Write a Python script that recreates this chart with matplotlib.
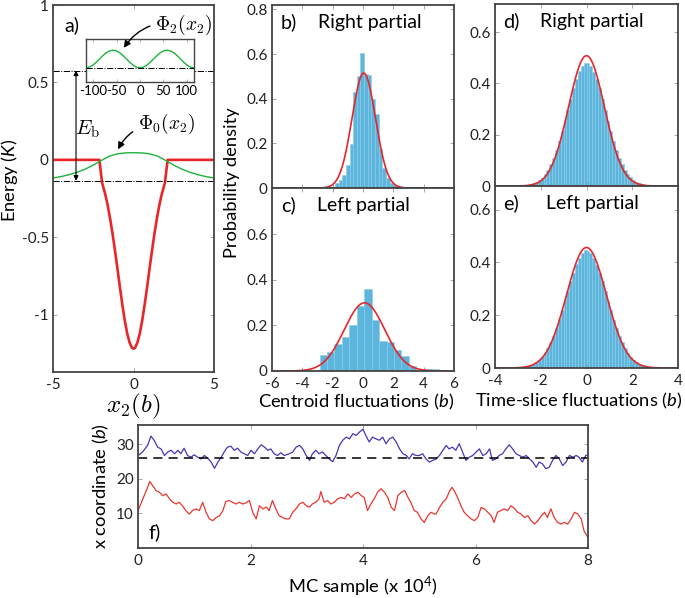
import numpy as np
import matplotlib
matplotlib.use("Agg")
import matplotlib.pyplot as plt
from matplotlib.ticker import FormatStrFormatter

plt.rcParams['font.family'] = ['Lato', 'DejaVu Sans']
plt.rcParams['mathtext.fontset'] = 'custom'
plt.rcParams['mathtext.it'] = 'Lato:italic'
plt.rcParams['mathtext.rm'] = 'Lato'
plt.rcParams['axes.unicode_minus'] = False

# ---------------- data ----------------
# a) double-well potential (K) vs x2 (b)
pot_x = [-5.0, -2.12, -1.95, -1.75, -1.6, -1.45, -1.3, -1.15, -1.0, -0.85, -0.7, -0.55, -0.4,
         -0.25, -0.1, 0.0, 0.1, 0.25, 0.4, 0.55, 0.7, 0.85, 1.0, 1.15, 1.3, 1.45, 1.6, 1.75,
         1.95, 2.12, 5.0]
pot_y = [0, 0, -0.148, -0.224, -0.295, -0.381, -0.478, -0.586, -0.701, -0.818, -0.930, -1.032,
         -1.117, -1.178, -1.213, -1.22, -1.213, -1.178, -1.117, -1.032, -0.930, -0.818, -0.701,
         -0.586, -0.478, -0.381, -0.295, -0.224, -0.148, 0, 0]
phi0_x = [-5, -4.5, -4, -3.5, -3, -2.5, -2, -1.5, -1, -0.5, 0, 0.5, 1, 1.5, 2, 2.5, 3, 3.5, 4, 4.5, 5]
phi0_y = [-0.117, -0.108, -0.096, -0.08, -0.06, -0.034, -0.004, 0.024, 0.039, 0.045, 0.046,
          0.045, 0.039, 0.024, -0.004, -0.034, -0.06, -0.08, -0.096, -0.108, -0.117]
phi2_x = [-116, -108.75, -101.5, -94.25, -87, -79.75, -72.5, -65.25, -58, -50.75, -43.5, -36.25,
          -29, -21.75, -14.5, -7.25, 0, 7.25, 14.5, 21.75, 29, 36.25, 43.5, 50.75, 58, 65.25,
          72.5, 79.75, 87, 94.25, 101.5, 108.75, 116]
phi2_y = [0.33, 0.346, 0.39, 0.457, 0.535, 0.613, 0.68, 0.724, 0.74, 0.724, 0.68, 0.613, 0.535,
          0.457, 0.39, 0.346, 0.33, 0.346, 0.39, 0.457, 0.535, 0.613, 0.68, 0.724, 0.74, 0.724,
          0.68, 0.613, 0.535, 0.457, 0.39, 0.346, 0.33]
level_top = 0.577
level_bottom = -0.135
inset_level = 0.33

# b) centroid, right partial
b_centers = [-1.73, -1.49, -1.25, -1.01, -0.77, -0.53, -0.29, -0.05, 0.19, 0.43, 0.67, 0.91,
             1.15, 1.39, 1.63, 1.87, 2.11]
b_heights = [0.022, 0.034, 0.058, 0.105, 0.197, 0.43, 0.50, 0.606, 0.51, 0.505, 0.40, 0.33,
             0.175, 0.088, 0.044, 0.022, 0.012]
b_width = 0.24
b_fit = (0.05, 0.775)   # mean, sigma

# c) centroid, left partial
c_centers = [-2.615, -2.125, -1.635, -1.145, -0.655, -0.165, 0.325, 0.815, 1.305, 1.795,
             2.285, 2.775, 3.265, 3.755, 4.245, 4.735]
c_heights = [0.071, 0.084, 0.12, 0.148, 0.204, 0.287, 0.36, 0.222, 0.133, 0.129, 0.093, 0.067,
             0.022, 0.0, 0.007, 0.007]
c_width = 0.49
c_fit = (0.1, 1.334)

# d), e) time-slice fluctuations
de_centers = [-2.9375, -2.8125, -2.6875, -2.5625, -2.4375, -2.3125, -2.1875, -2.0625, -1.9375,
              -1.8125, -1.6875, -1.5625, -1.4375, -1.3125, -1.1875, -1.0625, -0.9375, -0.8125,
              -0.6875, -0.5625, -0.4375, -0.3125, -0.1875, -0.0625, 0.0625, 0.1875, 0.3125,
              0.4375, 0.5625, 0.6875, 0.8125, 0.9375, 1.0625, 1.1875, 1.3125, 1.4375, 1.5625,
              1.6875, 1.8125, 1.9375, 2.0625, 2.1875, 2.3125, 2.4375, 2.5625, 2.6875, 2.8125,
              2.9375]
de_width = 0.125
d_heights = [0.001, 0.002, 0.003, 0.005, 0.007, 0.011, 0.016, 0.023, 0.033, 0.046, 0.063, 0.084,
             0.110, 0.140, 0.175, 0.213, 0.255, 0.297, 0.340, 0.382, 0.418, 0.448, 0.470, 0.480,
             0.478, 0.468, 0.446, 0.416, 0.381, 0.339, 0.297, 0.255, 0.214, 0.176, 0.141, 0.111,
             0.085, 0.064, 0.047, 0.034, 0.024, 0.016, 0.011, 0.007, 0.005, 0.003, 0.002, 0.001]
e_heights = [0.002, 0.003, 0.005, 0.008, 0.011, 0.016, 0.023, 0.032, 0.043, 0.058, 0.076, 0.098,
             0.123, 0.152, 0.184, 0.219, 0.256, 0.293, 0.329, 0.362, 0.393, 0.418, 0.436, 0.446,
             0.445, 0.435, 0.417, 0.392, 0.361, 0.328, 0.292, 0.255, 0.218, 0.183, 0.151, 0.122,
             0.097, 0.075, 0.057, 0.043, 0.032, 0.023, 0.016, 0.011, 0.008, 0.005, 0.003, 0.002]
d_fit = (0.0, 0.785)
e_fit = (0.0, 0.873)

# f) MC traces (samples in units of 1e4)
blue_t = [0.00, 0.08, 0.17, 0.23, 0.29, 0.35, 0.41, 0.47, 0.53, 0.59, 0.65, 0.71, 0.76, 0.82,
          0.88, 0.94, 1.00, 1.06, 1.12, 1.18, 1.24, 1.30, 1.36, 1.42, 1.48, 1.53, 1.59, 1.65,
          1.71, 1.77, 1.83, 1.89, 1.95, 2.01, 2.07, 2.13, 2.19, 2.25, 2.31, 2.36, 2.42, 2.48,
          2.54, 2.60, 2.69, 2.75, 2.81, 2.87, 2.93, 2.99, 3.05, 3.10, 3.16, 3.22, 3.28, 3.34,
          3.40, 3.46, 3.52, 3.58, 3.64, 3.70, 3.76, 3.82, 3.88, 3.94, 4.00, 4.05, 4.11, 4.17,
          4.23, 4.29, 4.35, 4.41, 4.47, 4.53, 4.59, 4.65, 4.71, 4.77, 4.82, 4.88, 4.94, 5.00,
          5.06, 5.12, 5.18, 5.24, 5.30, 5.36, 5.42, 5.48, 5.53, 5.59, 5.65, 5.71, 5.77, 5.83,
          5.89, 5.95, 6.01, 6.07, 6.13, 6.19, 6.25, 6.30, 6.36, 6.42, 6.48, 6.54, 6.60, 6.66,
          6.72, 6.78, 6.84, 6.90, 6.96, 7.02, 7.08, 7.13, 7.19, 7.25, 7.31, 7.37, 7.43, 7.49,
          7.55, 7.61, 7.67, 7.73, 7.79, 7.84, 7.90, 7.96, 8.00]
blue_x = [26.7, 27.7, 29.6, 32.3, 31.0, 29.1, 28.6, 26.7, 27.7, 28.2, 27.2, 28.2, 27.2, 28.8,
          26.7, 26.2, 26.9, 26.2, 25.7, 26.7, 25.9, 24.8, 23.0, 24.8, 26.2, 27.7, 29.1, 29.4,
          28.2, 28.8, 27.7, 27.2, 26.7, 28.2, 27.2, 28.6, 29.8, 29.1, 28.2, 28.6, 27.2, 26.7,
          27.5, 26.7, 27.2, 27.7, 29.1, 29.6, 28.6, 26.7, 25.3, 27.2, 28.2, 27.2, 27.7, 26.7,
          25.7, 24.9, 26.7, 29.6, 31.1, 32.0, 31.5, 33.0, 32.5, 33.5, 34.3, 32.5, 30.6, 32.0,
          31.5, 31.1, 32.0, 30.1, 31.5, 32.0, 30.6, 28.6, 27.2, 26.7, 25.7, 27.2, 26.7, 26.7,
          27.2, 25.7, 24.8, 25.3, 25.7, 26.7, 28.2, 29.6, 28.6, 29.1, 28.2, 30.1, 27.7, 25.3,
          26.2, 26.7, 27.7, 28.6, 26.7, 27.2, 28.6, 25.3, 25.7, 26.7, 27.2, 28.6, 29.8, 28.6,
          27.2, 26.7, 26.2, 26.7, 25.7, 24.8, 23.3, 24.8, 24.3, 22.9, 23.3, 25.3, 26.7, 25.7,
          23.8, 24.8, 26.7, 26.2, 26.7, 26.2, 24.8, 26.7, 26.9]
red_t = [0.00, 0.05, 0.11, 0.17, 0.21, 0.26, 0.32, 0.38, 0.44, 0.50, 0.56, 0.62, 0.68, 0.73,
         0.79, 0.85, 0.91, 0.97, 1.03, 1.09, 1.15, 1.21, 1.27, 1.33, 1.39, 1.45, 1.51, 1.56,
         1.62, 1.68, 1.74, 1.80, 1.86, 1.92, 1.98, 2.04, 2.10, 2.16, 2.22, 2.28, 2.33, 2.39,
         2.45, 2.51, 2.57, 2.63, 2.69, 2.75, 2.81, 2.87, 2.93, 2.99, 3.05, 3.10, 3.16, 3.22,
         3.25, 3.31, 3.37, 3.43, 3.49, 3.55, 3.61, 3.67, 3.73, 3.79, 3.85, 3.91, 3.97, 4.02,
         4.08, 4.14, 4.20, 4.26, 4.32, 4.38, 4.44, 4.50, 4.56, 4.62, 4.68, 4.74, 4.80, 4.85,
         4.91, 4.97, 5.03, 5.09, 5.15, 5.21, 5.27, 5.30, 5.36, 5.42, 5.48, 5.53, 5.58, 5.62,
         5.68, 5.74, 5.80, 5.86, 5.92, 5.98, 6.04, 6.10, 6.16, 6.22, 6.28, 6.33, 6.39, 6.45,
         6.51, 6.57, 6.63, 6.69, 6.75, 6.81, 6.87, 6.93, 6.99, 7.05, 7.11, 7.17, 7.23, 7.28,
         7.34, 7.40, 7.46, 7.52, 7.58, 7.64, 7.70, 7.76, 7.82, 7.88, 7.93, 8.00]
red_x = [10.8, 12.7, 15.1, 17.5, 19.2, 18.0, 16.6, 16.1, 15.1, 15.6, 14.2, 13.2, 12.7, 13.2,
         12.2, 10.8, 9.8, 10.8, 11.3, 10.8, 13.2, 10.3, 8.4, 7.9, 8.8, 9.3, 10.8, 13.4,
         13.7, 13.2, 12.7, 13.2, 12.7, 13.0, 13.7, 10.3, 8.4, 12.2, 11.3, 11.8, 10.8, 13.7,
         11.3, 9.3, 8.8, 8.4, 8.4, 10.3, 11.3, 12.7, 13.2, 12.2, 11.8, 12.7, 13.2, 14.2,
         16.3, 13.2, 13.7, 12.7, 13.2, 14.2, 14.6, 14.2, 15.6, 14.6, 15.6, 16.1, 15.1, 14.6,
         10.8, 12.7, 14.2, 16.1, 17.1, 16.1, 14.6, 11.8, 10.8, 15.1, 16.1, 16.6, 14.6, 13.2,
         10.8, 10.3, 8.4, 7.4, 9.3, 10.3, 9.8, 9.8, 11.7, 13.2, 14.2, 16.1, 17.5, 16.6,
         14.6, 12.2, 10.3, 9.3, 8.4, 7.9, 8.8, 11.7, 11.3, 10.3, 9.3, 7.4, 10.3, 10.8,
         11.3, 10.8, 12.2, 11.5, 10.3, 9.8, 8.8, 9.3, 7.9, 6.9, 7.9, 9.3, 10.3, 8.8,
         11.3, 8.8, 7.4, 6.9, 7.4, 6.9, 8.4, 10.3, 9.8, 8.4, 4.9, 3.0]
ref_line = 26.0

# ---------------- styling helpers ----------------
RED = '#e8262a'
BAR = '#5bb5dc'
FS_TICK = 11
FS_LAB = 13.2
fig = plt.figure(figsize=(6.85, 5.98), dpi=100)


def box(l, t, r, b):
    return fig.add_axes([l / 685, 1 - b / 598, (r - l) / 685, (b - t) / 598])


def style(ax):
    for s in ax.spines.values():
        s.set_color('#444444')
        s.set_linewidth(1.3)
    ax.tick_params(direction='in', length=3, width=0.6, color='#999999', top=True,
                   right=True, labelsize=FS_TICK, pad=3, labelcolor='#222222')
    ax.tick_params(axis='x', pad=4.5)


def gauss(x, mu, sig):
    return np.exp(-(x - mu) ** 2 / (2 * sig ** 2)) / (sig * np.sqrt(2 * np.pi))


# ---------------- panel a ----------------
ax_a = box(53, 5, 214, 372)
style(ax_a)
ax_a.plot(pot_x, pot_y, color=RED, lw=1.9, solid_joinstyle='round')
ax_a.plot(phi0_x, phi0_y, color='#1db33a', lw=1.0)
ax_a.axhline(level_top, color='k', lw=0.7, ls='-.')
ax_a.axhline(level_bottom, color='k', lw=0.7, ls='-.')
ax_a.set_xlim(-5, 5)
ax_a.set_ylim(-1.37, 1.0)
ax_a.set_xticks([-5, 0, 5])
ax_a.set_yticks([-1, -0.5, 0, 0.5, 1])
ax_a.yaxis.set_major_formatter(FormatStrFormatter('%g'))
ax_a.annotate('', xy=(-3.57, level_bottom), xytext=(-3.57, level_top),
              arrowprops=dict(arrowstyle='<|-|>', color='k', lw=0.8, mutation_scale=7,
                              shrinkA=0, shrinkB=0))
ax_a.text(-2.85, 0.2, r'$E_\mathrm{b}$', math_fontfamily='cm', fontsize=15,
          ha='center', va='center')
ax_a.text(-3.8, 0.87, 'a)', fontsize=FS_LAB + 1, ha='center', va='center')
ax_a.annotate(r'$\Phi_0(x_2)$', xy=(-1.0, 0.06), xytext=(2.05, 0.23),
              math_fontfamily='cm', fontsize=14, ha='center', va='center',
              arrowprops=dict(arrowstyle='-|>', color='k', lw=1.0, mutation_scale=10,
                              connectionstyle='arc3,rad=0.35', shrinkA=2, shrinkB=1))
ax_a.set_xlabel(r'$x_2(b)$', math_fontfamily='cm', fontsize=18, labelpad=0)
fig.text(10 / 685, 1 - 180 / 598, 'Energy ($K$)', rotation=90, fontsize=FS_LAB,
         ha='center', va='center')

# inset with Phi_2
ax_in = box(86, 39, 194, 82)
ax_in.plot(phi2_x, phi2_y, color='#1db33a', lw=1.0)
ax_in.axhline(inset_level, color='k', lw=0.7, ls='-.')
ax_in.set_xlim(-116, 116)
ax_in.set_ylim(0, 1)
ax_in.set_yticks([])
ax_in.set_xticks([-100, -50, 0, 50, 100])
for s in ax_in.spines.values():
    s.set_color('#444444')
    s.set_linewidth(1.0)
ax_in.tick_params(direction='in', length=2, width=0.5, color='#999999', top=True,
                  labelsize=9.5, pad=2)
ax_in.annotate(r'$\Phi_2(x_2)$', xy=(123 / 685, 1 - 49 / 598), xycoords='figure fraction',
               xytext=(184 / 685, 1 - 25 / 598), textcoords='figure fraction',
               math_fontfamily='cm', fontsize=14, ha='center', va='center',
               annotation_clip=False,
               arrowprops=dict(arrowstyle='-|>', color='k', lw=1.0, mutation_scale=10,
                               connectionstyle='arc3,rad=0.35', shrinkA=2, shrinkB=1))


# ---------------- histograms ----------------
def hist_panel(ax, centers, heights, width, fit, xlim, ylim, yticks, label, title, lx):
    style(ax)
    ax.bar(centers, heights, width=width, color=BAR, edgecolor='#8ccbe6', linewidth=0.4)
    xs = np.linspace(xlim[0], xlim[1], 600)
    ax.plot(xs, gauss(xs, *fit), color=RED, lw=1.2)
    ax.set_xlim(*xlim)
    ax.set_ylim(*ylim)
    ax.set_yticks(yticks)
    ax.yaxis.set_major_formatter(FormatStrFormatter('%g'))
    ax.text(0.09, 0.905, label, transform=ax.transAxes, fontsize=FS_LAB + 1, ha='center',
            va='center')
    ax.text(lx, 0.905, title, transform=ax.transAxes, fontsize=FS_LAB + 0.8, ha='center',
            va='center')


ax_b = box(272, 5, 454, 188)
hist_panel(ax_b, b_centers, b_heights, b_width, b_fit, (-6, 6), (0, 0.82),
           [0, 0.2, 0.4, 0.6, 0.8], 'b)', 'Right partial', 0.54)
ax_b.set_xticks([-6, -4, -2, 0, 2, 4, 6])
ax_b.tick_params(labelbottom=False)

ax_c = box(272, 188, 454, 371)
hist_panel(ax_c, c_centers, c_heights, c_width, c_fit, (-6, 6), (0, 0.803),
           [0, 0.2, 0.4, 0.6], 'c)', 'Left partial', 0.5)
ax_c.set_xticks([-6, -4, -2, 0, 2, 4, 6])
ax_c.set_xlabel('Centroid fluctuations ($b$)', fontsize=FS_LAB)
ax_c.xaxis.set_label_coords(0.46, -0.112)
fig.text(232 / 685, 1 - 183 / 598, 'Probability density', rotation=90, fontsize=FS_LAB,
         ha='center', va='center')

ax_d = box(495, 4, 678, 186)
hist_panel(ax_d, de_centers, d_heights, de_width, d_fit, (-4, 4), (0, 0.71),
           [0, 0.2, 0.4, 0.6], 'd)', 'Right partial', 0.53)
ax_d.set_xticks([-4, -2, 0, 2, 4])
ax_d.tick_params(labelbottom=False)

ax_e = box(495, 186, 678, 368)
hist_panel(ax_e, de_centers, e_heights, de_width, e_fit, (-4, 4), (0, 0.69),
           [0, 0.2, 0.4, 0.6], 'e)', 'Left partial', 0.53)
ax_e.set_xticks([-4, -2, 0, 2, 4])
ax_e.set_xlabel('Time-slice fluctuations ($b$)', fontsize=FS_LAB)
ax_e.xaxis.set_label_coords(0.455, -0.127)

# ---------------- panel f ----------------
ax_f = box(138, 425, 588, 548)
style(ax_f)
ax_f.plot(blue_t, blue_x, color='#4638b0', lw=0.9)
ax_f.plot(red_t, red_x, color='#e8372f', lw=0.9)
ax_f.axhline(ref_line, color='k', lw=1.1, dashes=(6, 4))
ax_f.set_xlim(0, 8)
ax_f.set_ylim(0, 35.5)
ax_f.set_xticks([0, 2, 4, 6, 8])
ax_f.set_yticks([10, 20, 30])
ax_f.text(0.038, 0.13, 'f)', transform=ax_f.transAxes, fontsize=FS_LAB + 1, ha='center',
          va='center')
ax_f.set_xlabel(r'MC sample (x 10$^4$)', fontsize=FS_LAB, labelpad=5)
ax_f.set_ylabel('x coordinate ($b$)', fontsize=FS_LAB, labelpad=4)

fig.savefig('out.png', dpi=100)
